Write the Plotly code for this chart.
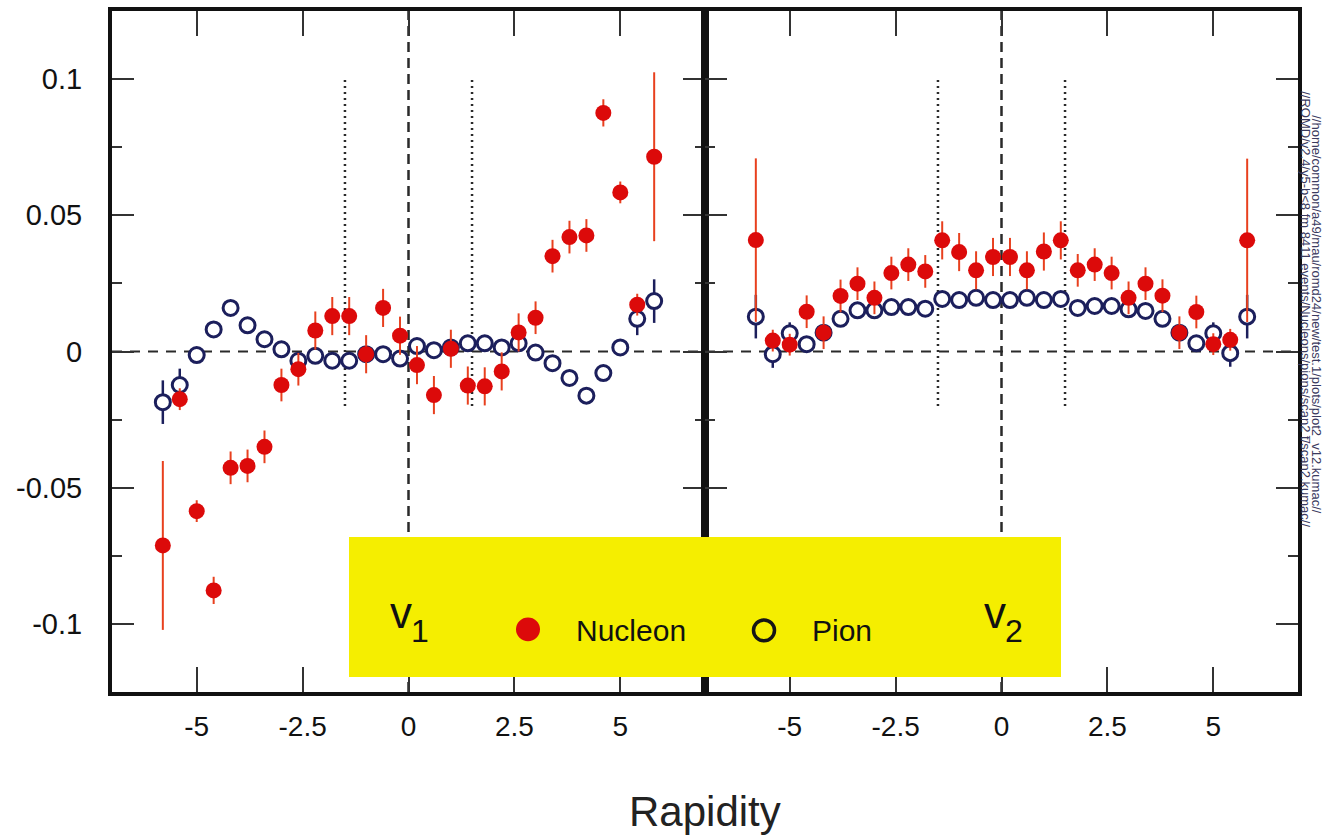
import plotly.graph_objects as go

# ---------------- data ----------------
rapidity = [-5.8, -5.4, -5.0, -4.6, -4.2, -3.8, -3.4, -3.0, -2.6, -2.2,
            -1.8, -1.4, -1.0, -0.6, -0.2, 0.2, 0.6, 1.0, 1.4, 1.8,
            2.2, 2.6, 3.0, 3.4, 3.8, 4.2, 4.6, 5.0, 5.4, 5.8]

v1_nucleon = [-0.0712, -0.0175, -0.0586, -0.0877, -0.0427, -0.0420, -0.0350, -0.0123, -0.0065, 0.0077,
              0.0130, 0.0130, -0.0010, 0.0160, 0.0058, -0.0050, -0.0160, 0.0010, -0.0125, -0.0128,
              -0.0073, 0.0070, 0.0124, 0.0350, 0.0420, 0.0426, 0.0876, 0.0584, 0.0172, 0.0715]
v1_nucleon_err = [0.031, 0.004, 0.004, 0.005, 0.006, 0.006, 0.006, 0.006, 0.006, 0.007,
                  0.007, 0.007, 0.007, 0.007, 0.007, 0.007, 0.007, 0.007, 0.007, 0.007,
                  0.007, 0.007, 0.006, 0.006, 0.006, 0.006, 0.005, 0.004, 0.004, 0.031]

v1_pion = [-0.0186, -0.0123, -0.0013, 0.0081, 0.0160, 0.0096, 0.0045, 0.0008, -0.0034, -0.0016,
           -0.0034, -0.0034, -0.0010, -0.0010, -0.0026, 0.0020, 0.0005, 0.0015, 0.0030, 0.0030,
           0.0015, 0.0030, -0.0004, -0.0043, -0.0097, -0.0162, -0.0079, 0.0015, 0.0120, 0.0185]
v1_pion_err = [0.008, 0.006, 0.002, 0.002, 0.002, 0.002, 0.002, 0.002, 0.002, 0.002,
               0.002, 0.002, 0.002, 0.002, 0.002, 0.002, 0.002, 0.002, 0.002, 0.002,
               0.002, 0.002, 0.002, 0.002, 0.002, 0.002, 0.002, 0.002, 0.006, 0.008]

v2_nucleon = [0.0409, 0.0040, 0.0025, 0.0146, 0.0069, 0.0204, 0.0249, 0.0197, 0.0288, 0.0319,
              0.0294, 0.0408, 0.0365, 0.0298, 0.0347, 0.0347, 0.0298, 0.0367, 0.0408, 0.0298,
              0.0319, 0.0288, 0.0197, 0.0249, 0.0205, 0.0069, 0.0145, 0.0027, 0.0043, 0.0408]
v2_nucleon_err = [0.030, 0.004, 0.004, 0.006, 0.006, 0.006, 0.006, 0.006, 0.006, 0.006,
                  0.006, 0.007, 0.007, 0.007, 0.007, 0.007, 0.007, 0.007, 0.007, 0.006,
                  0.006, 0.006, 0.006, 0.006, 0.006, 0.006, 0.006, 0.004, 0.004, 0.030]

v2_pion = [0.0128, -0.0010, 0.0067, 0.0027, 0.0069, 0.0120, 0.0151, 0.0151, 0.0163, 0.0163,
           0.0157, 0.0193, 0.0189, 0.0197, 0.0189, 0.0189, 0.0197, 0.0189, 0.0193, 0.0160,
           0.0167, 0.0167, 0.0155, 0.0149, 0.0120, 0.0069, 0.0030, 0.0067, -0.0006, 0.0128]
v2_pion_err = [0.008, 0.005, 0.004, 0.002, 0.002, 0.002, 0.002, 0.002, 0.002, 0.002,
               0.002, 0.002, 0.002, 0.002, 0.002, 0.002, 0.002, 0.002, 0.002, 0.002,
               0.002, 0.002, 0.002, 0.002, 0.002, 0.002, 0.002, 0.004, 0.005, 0.008]

x_tickvals = [-5, -2.5, 0, 2.5, 5]
x_ticktext = ["-5", "-2.5", "0", "2.5", "5"]
y_tickvals = [-0.1, -0.05, 0, 0.05, 0.1]
y_ticktext = ["-0.1", "-0.05", "0", "0.05", "0.1"]
y_minorvals = [-0.075, -0.025, 0.025, 0.075]

# ---------------- style ----------------
RED = "#DC0A0A"
RED_ERR = "#E8401E"
NAVY = "#1C1F5C"
YELLOW = "#F5EE00"
FONT = "Liberation Sans, Arial, sans-serif"

fig = go.Figure()

def nucleon_trace(y, err, xa, ya):
    return go.Scatter(x=rapidity, y=y, mode="markers", xaxis=xa, yaxis=ya,
                      marker=dict(symbol="circle", size=16, color=RED, line=dict(width=0)),
                      error_y=dict(type="data", array=err, visible=True, color=RED_ERR,
                                   thickness=2, width=0),
                      showlegend=False, hoverinfo="x+y")

def pion_trace(y, err, xa, ya):
    return go.Scatter(x=rapidity, y=y, mode="markers", xaxis=xa, yaxis=ya,
                      marker=dict(symbol="circle", size=15, color="white",
                                  line=dict(width=3, color=NAVY)),
                      error_y=dict(type="data", array=err, visible=True, color=NAVY,
                                   thickness=2.5, width=0),
                      showlegend=False, hoverinfo="x+y")

fig.add_trace(pion_trace(v1_pion, v1_pion_err, "x", "y"))
fig.add_trace(nucleon_trace(v1_nucleon, v1_nucleon_err, "x", "y"))
fig.add_trace(pion_trace(v2_pion, v2_pion_err, "x2", "y2"))
fig.add_trace(nucleon_trace(v2_nucleon, v2_nucleon_err, "x2", "y2"))

xaxis_common = dict(range=[-7, 7], showline=True, linewidth=4, linecolor="#111",
                    mirror="ticks", ticks="inside", ticklen=25, tickwidth=2, tickcolor="#333",
                    tickvals=x_tickvals, ticktext=x_ticktext, showgrid=False, zeroline=False,
                    tickfont=dict(family=FONT, size=28, color="#111"))
yaxis_common = dict(range=[-0.125, 0.125], showline=True, linewidth=4, linecolor="#111",
                    mirror="ticks", ticks="inside", ticklen=22, tickwidth=2, tickcolor="#333",
                    tickvals=y_tickvals, ticktext=y_ticktext, showgrid=False, zeroline=False,
                    minor=dict(tickvals=y_minorvals, ticks="inside", ticklen=10, tickwidth=2,
                               tickcolor="#333", showgrid=False),
                    tickfont=dict(family=FONT, size=29, color="#111"))

fig.update_layout(
    width=1324, height=837,
    margin=dict(l=112, r=26, t=7, b=145),
    paper_bgcolor="white", plot_bgcolor="white",
    xaxis=dict(domain=[0, 0.5], anchor="y", ticklabelstandoff=6, **xaxis_common),
    xaxis2=dict(domain=[0.5, 1], anchor="y2", ticklabelstandoff=6, **xaxis_common),
    yaxis=dict(domain=[0, 1], anchor="x", ticklabelstandoff=20, **yaxis_common),
    yaxis2=dict(domain=[0, 1], anchor="x2", showticklabels=False, **yaxis_common),
)

shapes = []
LINE_DARK = "#2a2a2a"
for xr, yr in (("x", "y"), ("x2", "y2")):
    shapes.append(dict(type="line", xref=xr, yref=yr, x0=-7, x1=7, y0=0, y1=0,
                       line=dict(color=LINE_DARK, width=2, dash="10px,8px"), layer="below"))
    shapes.append(dict(type="line", xref=xr, yref=yr, x0=0, x1=0, y0=-0.125, y1=0.125,
                       line=dict(color=LINE_DARK, width=2.5, dash="10px,6px"), layer="below"))
    for xv in (-1.5, 1.5):
        shapes.append(dict(type="line", xref=xr, yref=yr, x0=xv, x1=xv, y0=-0.02, y1=0.1,
                           line=dict(color=LINE_DARK, width=2.5, dash="2px,4px"), layer="below"))

def px_x(p):
    return (p - 112) / 1186.0

def px_y(p):
    return (692 - p) / 685.0

shapes.append(dict(type="rect", xref="paper", yref="paper",
                   x0=px_x(349), x1=px_x(1061), y0=px_y(677), y1=px_y(536),
                   fillcolor=YELLOW, line=dict(width=0), layer="above"))
cx, cy, r = 528, 629, 12
shapes.append(dict(type="circle", xref="paper", yref="paper",
                   x0=px_x(cx - r), x1=px_x(cx + r), y0=px_y(cy + r), y1=px_y(cy - r),
                   fillcolor=RED, line=dict(width=0), layer="above"))
cx, cy, r = 764, 630, 10.5
shapes.append(dict(type="circle", xref="paper", yref="paper",
                   x0=px_x(cx - r), x1=px_x(cx + r), y0=px_y(cy + r), y1=px_y(cy - r),
                   fillcolor="rgba(0,0,0,0)", line=dict(width=3.5, color="#151515"), layer="above"))
fig.update_layout(shapes=shapes)

ann = []
def text(x, y, s, size, color="#111", angle=0):
    ann.append(dict(xref="paper", yref="paper", x=px_x(x), y=px_y(y), text=s, showarrow=False,
                    xanchor="center", yanchor="middle", textangle=angle,
                    font=dict(family=FONT, size=size, color=color)))

text(401, 612, "v", 44)
text(420, 631, "1", 32)
text(995, 612, "v", 44)
text(1014, 631, "2", 32)
text(631, 630, "Nucleon", 30)
text(842, 630, "Pion", 30)
text(705, 812, "Rapidity", 42, color="#222")
text(1317, 312, "//home/common/a49/mau/romd24/new/test.1/plots/plot2_v12.kumac//", 13,
     color="#3a3a60", angle=90)
text(1306, 307, "//ROMD/v2.4/y5-b&lt;8 fm 8411 events/Nucleons/pions/scan2 t/scan2.kumac//", 13,
     color="#3a3a60", angle=90)
fig.update_layout(annotations=ann)

fig.write_html("out.html")
